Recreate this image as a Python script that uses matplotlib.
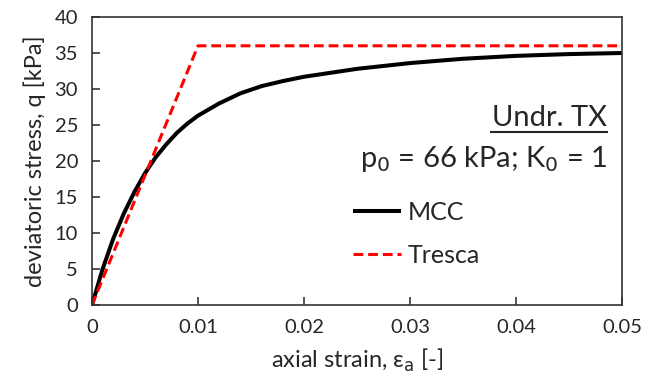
import matplotlib
matplotlib.use("Agg")
import matplotlib.pyplot as plt
from matplotlib.ticker import MultipleLocator, FuncFormatter

# Data
mcc_strain = [0.0, 0.001, 0.002, 0.003, 0.004, 0.005, 0.006, 0.007, 0.008, 0.009,
              0.010, 0.012, 0.014, 0.016, 0.018, 0.020, 0.025, 0.030, 0.035,
              0.040, 0.045, 0.050]
mcc_q = [0.0, 5.0, 9.2, 12.7, 15.7, 18.3, 20.5, 22.3, 23.9, 25.2,
         26.3, 28.0, 29.4, 30.4, 31.1, 31.7, 32.8, 33.6, 34.2,
         34.6, 34.85, 35.0]
tresca_strain = [0.0, 0.010, 0.050]
tresca_q = [0.0, 36.0, 36.0]

plt.rcParams['font.family'] = ['Lato', 'DejaVu Sans']
text_col = '#262626'

fig = plt.figure(figsize=(6.58, 3.91), dpi=100)
ax = fig.add_axes([92/658, 1-305/391, (622-92)/658, (305-17)/391])

ax.plot(mcc_strain, mcc_q, color='black', lw=2.9, label='MCC', solid_capstyle='butt')
ax.plot(tresca_strain, tresca_q, color='#ff0000', lw=2.2, dashes=(3.2, 1.6), label='Tresca')

ax.set_xlim(0, 0.05)
ax.set_ylim(0, 40)
ax.xaxis.set_major_locator(MultipleLocator(0.01))
ax.yaxis.set_major_locator(MultipleLocator(5))
ax.xaxis.set_major_formatter(FuncFormatter(lambda v, p: '0' if abs(v) < 1e-12 else f'{v:.2f}'))
ax.tick_params(direction='in', length=6, width=1.1, labelsize=14.5, colors=text_col)
ax.tick_params(axis='x', pad=10)
ax.tick_params(axis='y', pad=10)
for s in ax.spines.values():
    s.set_color('#333333')
    s.set_linewidth(1.2)

ax.set_xlabel(r'axial strain, ε$_\mathrm{a}$ [-]', fontsize=17, color=text_col, labelpad=8)
ax.set_ylabel('deviatoric stress, q [kPa]', fontsize=17, color=text_col, labelpad=6)

ax.text(0.972, 0.6215, 'Undr. TX', transform=ax.transAxes, ha='right', va='baseline',
        fontsize=21, color=text_col)
ax.plot([0.753, 0.972], [0.6007, 0.6007], transform=ax.transAxes, color=text_col, lw=1.5)
ax.text(0.972, 0.479, r'p$_0$ = 66 kPa; K$_0$ = 1', transform=ax.transAxes, ha='right',
        va='baseline', fontsize=21, color=text_col)

leg = ax.legend(loc='center left', bbox_to_anchor=(0.4925, 0.2465), frameon=False,
                fontsize=18, handlelength=1.9, handletextpad=0.3, labelspacing=0.8,
                borderaxespad=0, borderpad=0)
for t in leg.get_texts():
    t.set_color(text_col)

fig.savefig('out.png', dpi=100)
